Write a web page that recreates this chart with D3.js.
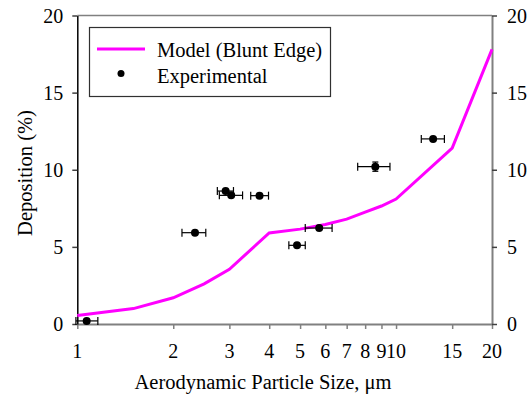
<!DOCTYPE html>
<html><head><meta charset="utf-8">
<script src="https://cdn.jsdelivr.net/npm/d3@7"></script>
</head><body style="margin:0">
<script>
// Model (Blunt Edge)
const modelX = [1, 1.5, 2, 2.5, 3, 4, 5, 6, 7, 8, 9, 10, 15, 20];
const modelY = [0.55, 1.0, 1.7, 2.6, 3.55, 5.9, 6.15, 6.45, 6.8, 7.25, 7.65, 8.1, 11.4, 17.8];
// Experimental
const expX   = [1.07, 2.34, 2.92, 3.04, 3.73, 4.89, 5.74, 8.61, 13.07];
const expY   = [0.2, 5.92, 8.62, 8.34, 8.32, 5.1, 6.22, 10.2, 12.0];
const expXLo = [0.99, 2.13, 2.75, 2.79, 3.50, 4.61, 5.19, 7.58, 12.0];
const expXHi = [1.16, 2.53, 3.09, 3.30, 3.98, 5.19, 6.30, 9.57, 14.18];
const expYErr = [0, 0, 0, 0, 0, 0, 0, 0.3, 0];
// Ticks
const xTicks = [1, 2, 3, 4, 5, 6, 7, 8, 9, 10, 15, 20];
const xTickLabels = ["1", "2", "3", "4", "5", "6", "7", "8", "9", "10", "15", "20"];
const yTicks = [0, 5, 10, 15, 20];
const legendLabels = ["Model (Blunt Edge)", "Experimental"];
const xTitle = "Aerodynamic Particle Size, \u03bcm";
const yTitle = "Deposition (%)";

const W = 531, H = 395;
const L = 77.3, R = 492, T = 15.5, B = 324;
const svg = d3.select("body").append("svg").attr("width", W).attr("height", H);
const x = d3.scaleLog().domain([1, 20]).range([L, R]);
const y = d3.scaleLinear().domain([0, 20]).range([B, T]);

// frame top (grey)
svg.append("line").attr("x1", L).attr("x2", R).attr("y1", T).attr("y2", T).attr("stroke", "#808080").attr("stroke-width", 1.5);

// axes (lines and ticks only; labels drawn as plain text below)
const gx = svg.append("g").attr("transform", `translate(0,${B})`)
  .call(d3.axisBottom(x).tickValues(xTicks).tickFormat("").tickSize(5).tickSizeOuter(0));
gx.select(".domain").attr("stroke", "#808080").attr("stroke-width", 2);
gx.selectAll(".tick line").attr("stroke", "#808080").attr("stroke-width", 1.5);
gx.selectAll(".tick text").remove();

const gr = svg.append("g").attr("transform", `translate(${R},0)`)
  .call(d3.axisRight(y).tickValues(yTicks).tickFormat("").tickSize(5).tickSizeOuter(0));
gr.select(".domain").attr("stroke", "#808080").attr("stroke-width", 2);
gr.selectAll(".tick line").attr("stroke", "#404040").attr("stroke-width", 1.5);
gr.selectAll(".tick text").remove();

const gl = svg.append("g").attr("transform", `translate(${L},0)`)
  .call(d3.axisLeft(y).tickValues(yTicks).tickFormat("").tickSize(5).tickSizeOuter(0));
gl.select(".domain").attr("stroke", "#000").attr("stroke-width", 1.5);
gl.selectAll(".tick line").attr("stroke", "#404040").attr("stroke-width", 1.5);
gl.selectAll(".tick text").remove();

const txt = svg.append("g");
function label(px, py, s, size, anchor) {
  return txt.append("text").attr("x", px).attr("y", py).attr("text-anchor", anchor || "start")
    .style("font-family", '"Times New Roman"').style("font-size", size + "px").text(s);
}
xTicks.forEach((d, i) => label(x(d), 358, xTickLabels[i], 20, "middle"));
yTicks.forEach(d => {
  label(L - 14, y(d) + 7, String(d), 20, "end");
  label(R + 15, y(d) + 7, String(d), 20, "start");
});
label(263, 389, xTitle, 20.5, "middle");
txt.append("text").attr("transform", "translate(32,173) rotate(-90)").attr("text-anchor", "middle")
  .style("font-family", '"Times New Roman"').style("font-size", "20.5px").text(yTitle);

// model line
const modelData = modelX.map((d, i) => [d, modelY[i]]);
svg.append("path").datum(modelData)
  .attr("d", d3.line().x(d => x(d[0])).y(d => y(d[1])))
  .attr("fill", "none").attr("stroke", "#ff00ff").attr("stroke-width", 3);

// experimental points
const expData = expX.map((d, i) => ({x: d, y: expY[i], lo: expXLo[i], hi: expXHi[i], ye: expYErr[i]}));
const ge = svg.append("g");
const cap = 4;
expData.forEach(d => {
  const g = ge.append("g").attr("stroke", "#000").attr("stroke-width", 1.2);
  g.append("line").attr("x1", x(d.lo)).attr("x2", x(d.hi)).attr("y1", y(d.y)).attr("y2", y(d.y));
  g.append("line").attr("x1", x(d.lo)).attr("x2", x(d.lo)).attr("y1", y(d.y) - cap).attr("y2", y(d.y) + cap);
  g.append("line").attr("x1", x(d.hi)).attr("x2", x(d.hi)).attr("y1", y(d.y) - cap).attr("y2", y(d.y) + cap);
  if (d.ye > 0) {
    g.append("line").attr("x1", x(d.x)).attr("x2", x(d.x)).attr("y1", y(d.y - d.ye)).attr("y2", y(d.y + d.ye));
    g.append("line").attr("x1", x(d.x) - 3).attr("x2", x(d.x) + 3).attr("y1", y(d.y - d.ye)).attr("y2", y(d.y - d.ye));
    g.append("line").attr("x1", x(d.x) - 3).attr("x2", x(d.x) + 3).attr("y1", y(d.y + d.ye)).attr("y2", y(d.y + d.ye));
  }
});
ge.selectAll("circle").data(expData).join("circle")
  .attr("cx", d => x(d.x)).attr("cy", d => y(d.y)).attr("r", 4).attr("fill", "#000");

// legend
svg.append("rect").attr("x", 89.5).attr("y", 27.5).attr("width", 241).attr("height", 69)
  .attr("fill", "#fff").attr("stroke", "#303030").attr("stroke-width", 1.2);
svg.append("line").attr("x1", 97).attr("x2", 145).attr("y1", 49).attr("y2", 49).attr("stroke", "#ff00ff").attr("stroke-width", 3);
svg.append("circle").attr("cx", 121).attr("cy", 73.5).attr("r", 3.5).attr("fill", "#000");
txt.raise();
label(157, 56.5, legendLabels[0], 20.5);
label(157, 83, legendLabels[1], 20.5);
</script>
</body></html>
